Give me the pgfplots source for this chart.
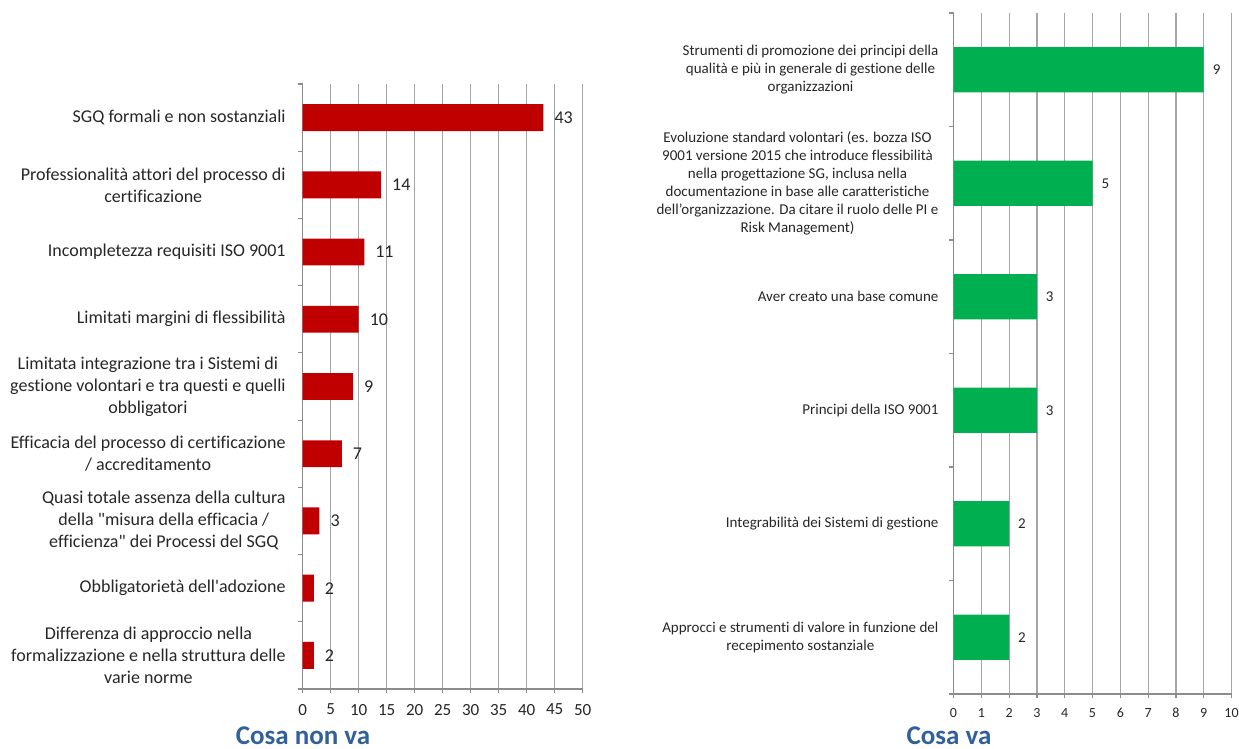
\documentclass[border=0pt]{standalone}
\usepackage{fontspec}
\setmainfont{Carlito}[Ligatures={TeX,NoCommon}]
\usepackage{pgfplots}
\pgfplotsset{compat=1.18}
\definecolor{barred}{HTML}{C00000}
\definecolor{bargreen}{HTML}{00B050}
\definecolor{titleblue}{HTML}{31609A}
\definecolor{gridgray}{HTML}{A6A6A6}
\definecolor{axisgray}{HTML}{8C8C8C}
\definecolor{txt}{HTML}{262626}
\pgfplotsset{
  mybar/.style={
    xbar, scale only axis, xmin=0,
    axis x line*=bottom, axis y line*=left,
    axis line style={-, axisgray, line width=0.6pt},
    xmajorgrids, major grid style={gridgray, line width=0.6pt},
    tick align=outside,
    major x tick style={axisgray, line width=0.6pt},
    major tick length=2pt,
    major y tick style={draw=none},
    minor y tick style={axisgray, line width=0.6pt},
    minor tick length=2.5pt,
    point meta=x, nodes near coords,
    bar width=0.4,
    /pgf/number format/assume math mode=true,
    yticklabel style={align=center, text=txt},
    xticklabel style={text=txt},
  }
}
\begin{document}
\begin{tikzpicture}[x=1pt,y=1pt]
\path[use as bounding box] (0,0) rectangle (619.5,374.5);
\begin{axis}[mybar,
  at={(151.35pt,30pt)}, anchor=south west,
  width=140pt, height=302.5pt,
  xmax=50, xtick={0,5,...,50},
  ymin=-0.5, ymax=8.5, ytick={0,...,8},
  minor ytick={-0.5,0.5,...,8.5},
  yticklabel style={font=\fontsize{9}{11}\selectfont, xshift=-3pt},
  xticklabel style={font=\fontsize{8.5}{10}\selectfont, yshift=-2pt},
  nodes near coords style={font=\fontsize{9}{10}\selectfont, text=txt, xshift=2pt},
  yticklabels={
    {Differenza di approccio nella\\formalizzazione e nella struttura delle\\varie norme},
    {Obbligatorietà dell\textquotesingle adozione},
    {Quasi totale assenza della cultura\\della \textquotedbl misura della efficacia /\\efficienza\textquotedbl\ dei Processi del SGQ},
    {Efficacia del processo di certificazione\\/ accreditamento},
    {Limitata integrazione tra i Sistemi di\\gestione volontari e tra questi e quelli\\obbligatori},
    {Limitati margini di flessibilità},
    {Incompletezza requisiti ISO 9001},
    {Professionalità attori del processo di\\certificazione},
    {SGQ formali e non sostanziali}
  },
]
\addplot[fill=barred, draw=none] coordinates {
  (2,0) (2,1) (3,2) (7,3) (9,4) (10,5) (11,6) (14,7) (43,8)
};
\end{axis}
\begin{axis}[mybar,
  at={(476.75pt,27.5pt)}, anchor=south west,
  width=139pt, height=340.5pt,
  xmax=10, xtick={0,1,...,10},
  ymin=-0.5, ymax=5.5, ytick={0,...,5},
  minor ytick={-0.5,0.5,...,5.5},
  yticklabel style={font=\fontsize{7.5}{9}\selectfont, xshift=-2pt},
  xticklabel style={font=\fontsize{7}{8}\selectfont, yshift=-1.5pt},
  nodes near coords style={font=\fontsize{7.5}{9}\selectfont, text=txt, xshift=1pt},
  yticklabels={
    {Approcci e strumenti di valore in funzione  del\\recepimento sostanziale},
    {Integrabilità dei Sistemi di gestione},
    {Principi della ISO 9001},
    {Aver creato una base comune},
    {Evoluzione standard volontari (es. bozza ISO\\9001 versione 2015 che introduce flessibilità\\nella progettazione SG, inclusa nella\\documentazione in base alle caratteristiche\\dell’organizzazione. Da citare il ruolo delle PI e\\Risk Management)},
    {Strumenti di promozione dei principi della\\qualità e più in generale di gestione delle\\organizzazioni}
  },
]
\addplot[fill=bargreen, draw=none] coordinates {
  (2,0) (2,1) (3,2) (3,3) (5,4) (9,5)
};
\end{axis}
\node[inner sep=0pt, font=\fontsize{13.5}{16}\bfseries\selectfont, text=titleblue] at (151.5,6.5) {Cosa non va};
\node[inner sep=0pt, font=\fontsize{13.5}{16}\bfseries\selectfont, text=titleblue] at (474.5,6.5) {Cosa va};
\end{tikzpicture}
\end{document}
